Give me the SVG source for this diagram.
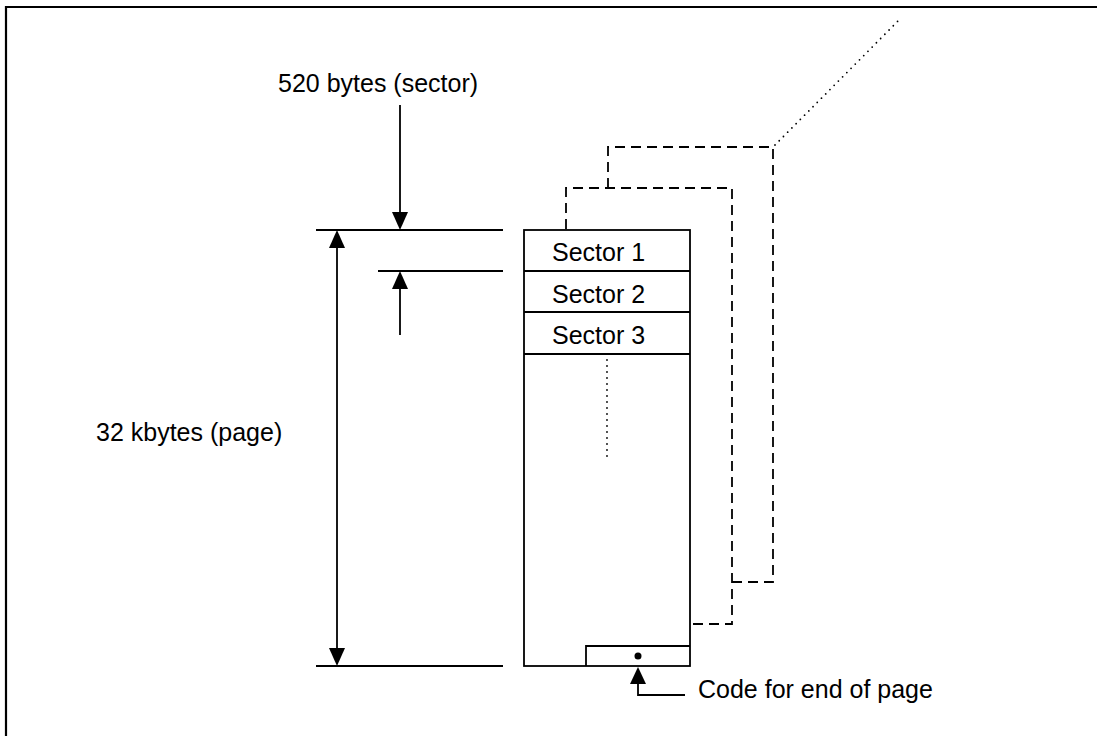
<svg xmlns="http://www.w3.org/2000/svg" width="1097" height="736" viewBox="0 0 1097 736">
<style>
.ln{stroke:#000;stroke-width:1.8;fill:none}
.ds{stroke:#000;stroke-width:1.8;fill:none;stroke-dasharray:10 6}
.dt{stroke:#000;stroke-width:1.8;fill:none;stroke-dasharray:0 6;stroke-linecap:round}
.ah{fill:#000;stroke:none}
text{font-family:"Liberation Sans",Arial,sans-serif;font-size:25px;fill:#000}
</style>
<rect width="1097" height="736" fill="#fff"/>
<g id="frame">
<path d="M6 736 V7 H1097" stroke="#000" stroke-width="2.2" fill="none"/>
</g>
<g id="pages-behind">
<path class="ds" d="M566 229 V188 H732 V624 H690"/>
<path class="ds" d="M608 188 V147 H773 V582 H732"/>
<path class="dt" d="M775 145 L898 21"/>
</g>
<g id="page">
<rect class="ln" x="524" y="230" width="166" height="436"/>
<line class="ln" x1="524" y1="271" x2="690" y2="271"/>
<line class="ln" x1="524" y1="312" x2="690" y2="312"/>
<line class="ln" x1="524" y1="354" x2="690" y2="354"/>
<path class="dt" d="M607 360 V462"/>
<path class="ln" d="M586 666 V646 H690"/>
<circle cx="638" cy="656" r="3.5" fill="#000"/>
<text x="552" y="261">Sector 1</text>
<text x="552" y="303">Sector 2</text>
<text x="552" y="344">Sector 3</text>
</g>
<g id="connectors">
<line class="ln" x1="316" y1="230" x2="503" y2="230"/>
<line class="ln" x1="378" y1="271" x2="503" y2="271"/>
<line class="ln" x1="316" y1="666" x2="503" y2="666"/>
<line class="ln" x1="400" y1="105" x2="400" y2="215"/>
<polygon class="ah" points="392,212 408,212 400,230"/>
<line class="ln" x1="400" y1="285" x2="400" y2="335"/>
<polygon class="ah" points="392,289 408,289 400,271"/>
<line class="ln" x1="337" y1="245" x2="337" y2="650"/>
<polygon class="ah" points="329,248 345,248 337,230"/>
<polygon class="ah" points="329,648 345,648 337,666"/>
<path class="ln" d="M638 680 V695 H685"/>
<polygon class="ah" points="630,684 646,684 638,667"/>
</g>
<g id="labels">
<text x="278" y="92">520 bytes (sector)</text>
<text x="96" y="441">32 kbytes (page)</text>
<text x="698" y="698">Code for end of page</text>
</g>
</svg>
